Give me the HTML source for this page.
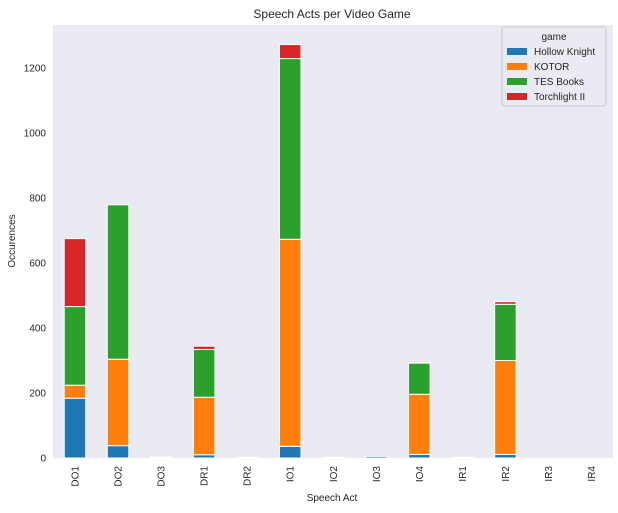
<!DOCTYPE html>
<html><head><meta charset="utf-8"><style>
body{margin:0;background:#fff;font-family:"Liberation Sans","DejaVu Sans",sans-serif;}
</style></head><body>
<svg id="chart" width="618" height="508" xmlns="http://www.w3.org/2000/svg" font-family="Liberation Sans, DejaVu Sans, sans-serif">
<rect x="53" y="25" width="560" height="433" fill="#eaeaf2"/>
<text x="332" y="18" text-anchor="middle" font-size="12" fill="#262626">Speech Acts per Video Game</text>
<text x="332" y="501" text-anchor="middle" font-size="10" fill="#262626">Speech Act</text>
<text transform="translate(15,241) rotate(-90)" text-anchor="middle" font-size="10" fill="#262626">Occurences</text>
<g id="bars"></g><g id="yticks"></g><g id="xticks"></g>
<g>
<rect x="502" y="27" width="104" height="79" rx="2" fill="#eaeaf2" stroke="#cccccc"/>
<text x="554" y="40" text-anchor="middle" font-size="10" fill="#262626">game</text>
<g id="legend-items"></g>
</g>
</svg>
<script>
const categories=["DO1","DO2","DO3","DR1","DR2","IO1","IO2","IO3","IO4","IR1","IR2","IR3","IR4"];
const seriesNames=["Hollow Knight","KOTOR","TES Books","Torchlight II"];
const hollowKnight=[184,38,3,10,2,36,2,5,11,2,11,0,0];
const kotor=[40,266,0,177,0,637,0,0,185,0,289,0,0];
const tesBooks=[242,475,0,147,0,556,0,0,96,0,173,0,0];
const torchlight=[209,0,0,10,0,43,0,0,2,0,8,0,0];
const yTicks=[0,200,400,600,800,1000,1200];
const colors=["#1f77b4","#ff7f0e","#2ca02c","#d62728"];
const NS="http://www.w3.org/2000/svg";
const L=53.5,R=613,B=458;
const y=v=>B-v*0.325;
const step=(R-L)/categories.length;
const xc=i=>L+step*(i+0.5);
const bw=step*0.5;
const series=[hollowKnight,kotor,tesBooks,torchlight];
const bars=document.getElementById('bars');
categories.forEach((c,i)=>{
  let base=0;
  series.forEach((s,k)=>{
    const v=s[i];
    const r=document.createElementNS(NS,'rect');
    r.setAttribute('x',xc(i)-bw/2);
    r.setAttribute('y',y(base+v));
    r.setAttribute('width',bw);
    r.setAttribute('height',Math.max(0,y(base)-y(base+v)));
    r.setAttribute('fill',colors[k]);
    r.setAttribute('stroke','#fff');
    r.setAttribute('stroke-width','1');
    
    
    bars.appendChild(r);
    base+=v;
  });
  const t=document.createElementNS(NS,'text');
  t.setAttribute('transform','translate('+(xc(i)+3.5)+',466) rotate(-90)');
  t.setAttribute('text-anchor','end');
  t.setAttribute('font-size','10');
  t.setAttribute('fill','#262626');
  t.textContent=c;
  
  
  document.getElementById('xticks').appendChild(t);
});
yTicks.forEach(v=>{
  const t=document.createElementNS(NS,'text');
  t.setAttribute('x',46);
  t.setAttribute('y',y(v)+3.5);
  t.setAttribute('text-anchor','end');
  t.setAttribute('font-size','10');
  t.setAttribute('fill','#262626');
  t.textContent=v;
  
  
  document.getElementById('yticks').appendChild(t);
});
const li=document.getElementById('legend-items');
seriesNames.forEach((n,k)=>{
  const yy=51+k*15;
  const r=document.createElementNS(NS,'rect');
  r.setAttribute('x',507);r.setAttribute('y',yy-3);r.setAttribute('width',20);r.setAttribute('height',7);
  r.setAttribute('fill',colors[k]);
  
  
  li.appendChild(r);
  const t=document.createElementNS(NS,'text');
  t.setAttribute('x',534);t.setAttribute('y',yy+4);
  t.setAttribute('font-size','10');t.setAttribute('fill','#262626');
  t.textContent=n;
  
  
  li.appendChild(t);
});
</script>
</body></html>
